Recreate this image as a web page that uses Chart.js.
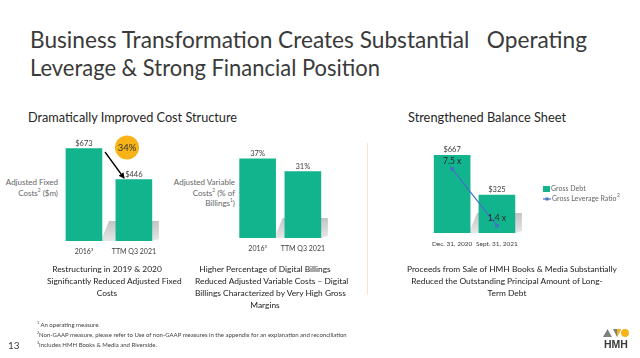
<!DOCTYPE html>
<html><head><meta charset="utf-8">
<script src="https://cdn.jsdelivr.net/npm/chart.js@4"></script>
<style>
html,body{margin:0;padding:0}
body{width:640px;height:358px;background:#fff;position:relative;overflow:hidden;font-family:Lato,"Open Sans",sans-serif;color:#404040}
.abs{position:absolute;white-space:nowrap;line-height:1}
.title{font-size:23px;color:#3a3a3a;left:30px;transform-origin:0 0}
.head{font-size:14px;color:#262626;transform-origin:0 0}
.ylab{font-size:8px;color:#666666;text-align:right;line-height:10.5px}
.cap{font-size:8.4px;color:#222222;text-align:center;line-height:12px}
.foot{font-size:6px;color:#404040;left:37px}
.leg{font-size:7px;color:#666666}
canvas{position:absolute}
sup{font-size:60%;line-height:0}
</style>
</head><body>
<div class="abs title fit" data-w="557" style="top:28px">Business Transformation Creates Substantial &nbsp; Operating</div>
<div class="abs title fit" data-w="350" style="top:56px">Leverage &amp; Strong Financial Position</div>

<div class="abs head fit" data-w="209" style="left:28px;top:110px">Dramatically Improved Cost Structure</div>
<div class="abs head fit" data-w="158" style="left:408px;top:110px">Strengthened Balance Sheet</div>

<div class="abs ylab" style="right:582px;top:177px">Adjusted Fixed<br>Costs<sup>2</sup> ($m)</div>
<div class="abs ylab" style="right:405px;top:177px">Adjusted Variable<br>Costs<sup>2</sup> (% of<br>Billings<sup>1</sup>)</div>

<div style="position:absolute;left:367px;top:143px;width:1px;height:152px;background:#fbe5c8"></div>

<canvas id="c1" width="104" height="128" style="left:59px;top:131px"></canvas>
<canvas id="c2" width="97" height="125" style="left:235px;top:131px"></canvas>
<canvas id="c3" width="102" height="120" style="left:424px;top:131px"></canvas>

<svg class="abs" style="left:0;top:0" width="640" height="358">
  <defs><marker id="ah" markerWidth="6" markerHeight="6" refX="5" refY="3" orient="auto" markerUnits="userSpaceOnUse"><path d="M0,0 L6,3 L0,6 z" fill="#000"/></marker></defs>
  <line x1="105" y1="152" x2="124" y2="178" stroke="#000" stroke-width="1.3" marker-end="url(#ah)"/>
  <circle cx="127" cy="147.5" r="12" fill="#f7b317"/>
  <text x="127" y="151" font-size="9.5" text-anchor="middle" fill="#333" font-family="Lato,sans-serif">34%</text>
  <!-- legend -->
  <rect x="543" y="186" width="7" height="6" fill="#12b48e"/>
  <line x1="543" y1="199" x2="551" y2="199" stroke="#4472c4" stroke-width="1.2"/>
  <rect x="545.5" y="197.5" width="3" height="3" fill="#4472c4"/>
  <!-- logo -->
  <polygon points="603,337 607.5,329 612,337" fill="#808080"/>
  <polygon points="613,329 621,329 617,337" fill="#808080"/>
  <polygon points="617,329 621,329 617,337" fill="#f7b317"/>
  <circle cx="625" cy="333" r="4" fill="#f7b317"/>
  <text x="616" y="348" font-size="10.5" font-weight="bold" text-anchor="middle" fill="#3a3a3a" font-family="Liberation Sans,Arial,sans-serif">HMH</text>
</svg>

<div class="abs leg" style="left:551px;top:185px">Gross Debt</div>
<div class="abs leg" style="left:552px;top:195px">Gross Leverage Ratio</div>
<div class="abs leg" style="left:617px;top:193px;font-size:5px">2</div>

<div class="abs cap" style="left:47px;width:120px;top:263px">Restructuring in 2019 &amp; 2020<br>Significantly Reduced Adjusted Fixed<br>Costs</div>
<div class="abs cap" style="left:195px;width:140px;top:263px">Higher Percentage of Digital Billings<br>Reduced Adjusted Variable Costs – Digital<br>Billings Characterized by Very High Gross<br>Margins</div>
<div class="abs cap" style="left:407px;width:200px;top:263px">Proceeds from Sale of HMH Books &amp; Media Substantially<br>Reduced the Outstanding Principal Amount of Long-<br>Term Debt</div>

<div class="abs foot" style="top:322px"><sup>1</sup> An operating measure.</div>
<div class="abs foot" style="top:332px"><sup>2</sup>Non-GAAP measure, please refer to Use of non-GAAP measures in the appendix for an explanation and reconciliation</div>
<div class="abs foot" style="top:342px"><sup>3</sup>Includes HMH Books &amp; Media and Riverside.</div>
<div class="abs" style="left:8px;top:340px;font-size:10px;color:#404040">13</div>

<script>
// ---- data ----
const fixedCats = ['2016³', 'TTM Q3 2021'];
const fixedCosts = [673, 446];
const varCats = ['2016³', 'TTM Q3 2021'];
const varCosts = [37, 31];
const debtCats = ['Dec. 31, 2020', 'Sept. 31, 2021'];
const grossDebt = [667, 325];
const leverageRatio = [7.5, 1.4];

const GREEN = '#12b48e';
const BLUE = '#4472c4';

const shadowPlugin = {
  id: 'shadow',
  beforeDatasetsDraw(chart) {
    const meta = chart.getDatasetMeta(0);
    const b0 = meta.data[0], b1 = meta.data[1];
    const bottom = chart.chartArea.bottom;
    const ctx = chart.ctx;
    const r0 = b0.x + b0.width / 2, r1 = b1.x + b1.width / 2;
    ctx.save();
    const g = ctx.createLinearGradient(0, bottom - 20, 0, bottom);
    g.addColorStop(0, '#c4c4c4');
    g.addColorStop(1, '#e6e6e6');
    ctx.fillStyle = g;
    ctx.beginPath();
    ctx.moveTo(r0, bottom - 3);
    ctx.lineTo(r0 + 7, bottom - 20);
    ctx.lineTo(r1 + 7, bottom - 20);
    ctx.lineTo(r1 + 7, bottom - 2);
    ctx.lineTo(r1, bottom);
    ctx.lineTo(r0, bottom);
    ctx.closePath();
    ctx.fill();
    ctx.restore();
  }
};

const labelPlugin = {
  id: 'vlabels',
  afterDatasetsDraw(chart) {
    const ctx = chart.ctx;
    chart.data.datasets.forEach((ds, i) => {
      if (!ds.fmt) return;
      const meta = chart.getDatasetMeta(i);
      meta.data.forEach((el, j) => {
        ctx.save();
        ctx.font = (ds.lblSize || 7.5) + 'px Lato, sans-serif';
        ctx.fillStyle = ds.lblColor || '#404040';
        ctx.textAlign = 'center';
        ctx.textBaseline = 'bottom';
        ctx.fillText(ds.fmt(ds.data[j]), el.x, el.y - (ds.lblOff || 1.5));
        ctx.restore();
      });
    });
  }
};

function xScale(size) {
  return {
    grid: { display: false, drawTicks: false }, border: { display: false },
    ticks: { font: { size: size, family: 'Lato' }, color: '#404040', padding: 7, maxRotation: 0, autoSkip: false },
    afterFit: s => { s.height = 18; }
  };
}

function barChart(id, cats, vals, max, fmt, tickSize, extra) {
  const datasets = [{ type: 'bar', data: vals, backgroundColor: GREEN, borderWidth: 0, barThickness: 36, fmt: fmt, order: 1, yAxisID: 'y' }];
  const scales = { x: xScale(tickSize), y: { display: false, min: 0, max: max } };
  if (extra) { datasets.push(extra.ds); scales.y2 = extra.scale; }
  return new Chart(document.getElementById(id), {
    data: { labels: cats, datasets },
    options: {
      responsive: false, animation: false, devicePixelRatio: 1,
      layout: { padding: 0 },
      plugins: { legend: { display: false }, tooltip: { enabled: false } },
      scales
    },
    plugins: [shadowPlugin, labelPlugin]
  });
}

barChart('c1', fixedCats, fixedCosts, 800, v => '$' + v, 7);
barChart('c2', varCats, varCosts, 50, v => v + '%', 7);
barChart('c3', debtCats, grossDebt, 830, v => '$' + v, 6.5, {
  ds: { type: 'line', data: leverageRatio, borderColor: BLUE, borderWidth: 1.2, pointRadius: 1.8, pointStyle: 'rect',
        pointBackgroundColor: BLUE, pointBorderColor: BLUE, yAxisID: 'y2', order: 0,
        fmt: v => v.toFixed(1) + ' x', lblSize: 8.5, lblColor: '#262626', lblOff: 3 },
  scale: { display: false, min: 0.6, max: 11 }
});

// fit selected text blocks to the reference widths
document.querySelectorAll('.fit').forEach(el => {
  const w = el.getBoundingClientRect().width;
  const target = +el.dataset.w;
  el.style.transform = 'scaleX(' + (target / w) + ')';
});
</script>
</body></html>
